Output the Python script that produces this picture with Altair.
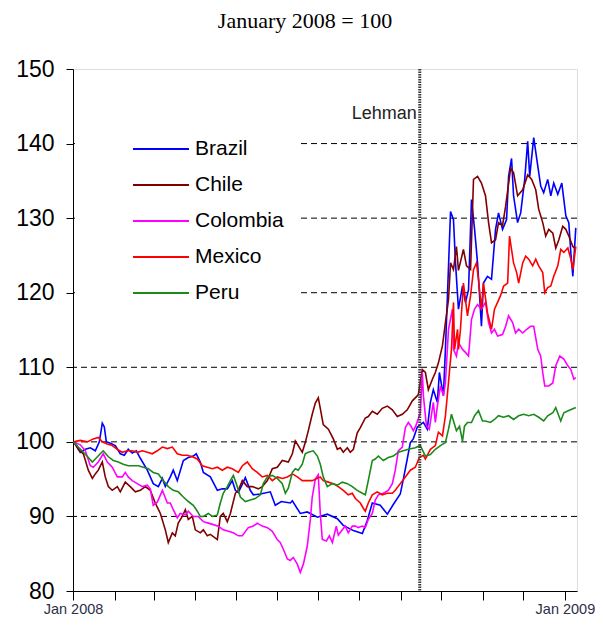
import altair as alt
import pandas as pd

START = "2008-01-01T00:00:00"
LEHMAN_DATE = "2008-09-15T00:00:00"
LEHMAN_LABEL = "Lehman"
TITLE = "January 2008 = 100"

SERIES = ["Brazil", "Chile", "Colombia", "Mexico", "Peru"]
COLORS = ["#0000FF", "#800000", "#FF00FF", "#FF0000", "#1B8A1B"]

Y_TICKS = [80, 90, 100, 110, 120, 130, 140, 150]
GRID_LEVELS = [90, 100, 110, 120, 130, 140]
X_TICK_MONTHS = [(2008, m) for m in range(1, 13)] + [(2009, 1)]

# (days since 1 Jan 2008, index value)
BRAZIL = [(0.5, 100), (2.5, 99.5), (5.4, 98.6), (9.2, 99.0), (12.9, 99.2), (16.6, 98.8), (19.6, 100),
          (21.8, 102.5), (23.3, 102.0), (24.8, 100), (27.8, 99.8), (31.5, 99.5), (35.2, 98.4), (38.2, 98.2),
          (41.1, 99.0), (44.1, 98.5), (47.1, 98.8), (50.1, 97.8), (55.3, 96.2), (59.7, 94.4), (63.5, 94.0),
          (66.5, 95.1), (68.7, 94.0), (72.4, 95.3), (74.6, 96.2), (77.6, 94.8), (82.1, 97.5), (85.8, 97.9),
          (89.5, 98.1), (91.7, 98.4), (94.7, 97.3), (97.0, 95.9), (102.2, 95.3), (107.4, 93.5), (111.1, 93.7),
          (114.8, 93.7), (118.5, 94.8), (120.8, 93.5), (123.0, 93.2), (126.5, 94.5), (128.2, 95.2), (131.9, 93.5),
          (134.2, 92.9), (139.4, 93.0), (146.8, 93.3), (150.5, 91.5), (155.0, 92.0), (161.7, 91.8), (163.2, 92.1),
          (169.1, 90.4), (174.3, 90.6), (181.8, 89.9), (189.2, 90.3), (196.7, 89.7), (201.1, 88.8), (208.6, 88.1),
          (215.3, 87.7), (219.0, 89.5), (222.7, 91.8), (228.6, 91.5), (233.9, 90.3), (238.3, 91.6), (243.5, 93.0),
          (245.8, 95.0), (248.7, 97.7), (251.0, 99.9), (253.2, 100.4), (256.2, 102.0), (260.7, 102.6),
          (263.6, 101.7), (265.9, 105.3), (268.1, 107.0), (271.1, 105.3), (272.6, 109.3), (275.6, 106.2),
          (277.1, 112.4), (278.6, 119.6), (280.9, 130.9), (283.1, 129.8), (284.6, 124.0), (286.8, 117.8),
          (289.8, 120.9), (292.0, 118.7), (294.3, 120.4), (296.5, 132.5), (298.8, 128.5), (301.0, 124.0),
          (303.9, 115.5), (305.4, 121.3), (308.4, 122.2), (311.4, 121.8), (314.4, 128.5), (316.6, 130.7),
          (319.6, 128.5), (322.6, 129.8), (324.1, 135.6), (326.3, 138.0), (327.8, 133.0), (330.8, 129.4),
          (333.1, 130.7), (336.1, 135.2), (338.3, 140.3), (339.8, 135.6), (342.8, 140.8), (345.8, 137.0),
          (348.0, 134.3), (350.2, 133.4), (353.2, 135.2), (355.5, 133.0), (357.7, 134.7), (360.7, 133.2),
          (363.7, 134.7), (366.7, 130.3), (368.9, 129.4), (370.4, 125.4), (371.9, 122.2), (374.1, 128.7)]

CHILE = [(0.5, 100), (3.9, 99.0), (7.7, 98.4), (11.4, 96.2), (14.4, 95.1), (16.6, 95.7), (18.8, 96.2),
         (21.8, 97.3), (24.0, 95.3), (26.3, 94.0), (29.2, 93.5), (33.0, 94.0), (35.2, 93.3), (38.9, 94.6),
         (42.6, 94.0), (46.4, 93.3), (50.1, 93.5), (53.8, 94.0), (57.5, 93.5), (61.2, 91.8), (65.0, 90.4),
         (68.7, 88.2), (70.9, 86.5), (73.9, 87.8), (76.1, 87.4), (78.3, 89.1), (81.3, 90.0), (83.6, 90.9),
         (85.8, 89.6), (88.8, 90.0), (91.0, 88.2), (94.7, 87.8), (97.0, 88.2), (99.9, 87.4), (102.2, 87.6),
         (107.4, 86.9), (109.6, 90.0), (111.8, 90.4), (114.8, 89.3), (117.1, 90.4), (120.8, 93.1), (123.0, 93.5),
         (126.0, 94.8), (129.7, 94.0), (133.4, 94.0), (137.9, 93.7), (140.8, 94.0), (144.6, 94.8), (148.3, 96.4),
         (152.0, 96.6), (155.7, 97.5), (160.2, 97.3), (163.2, 98.4), (165.4, 100.1), (167.6, 99.5), (170.6, 98.6),
         (172.8, 99.9), (175.1, 101.5), (178.0, 103.7), (180.3, 105.2), (182.5, 105.9), (184.0, 104.5),
         (186.2, 102.3), (190.0, 101.7), (193.7, 100.4), (196.7, 99.0), (198.9, 99.2), (201.1, 98.6),
         (204.1, 99.2), (206.3, 98.6), (208.6, 99.0), (211.5, 101.2), (213.8, 101.9), (217.5, 103.2),
         (219.7, 103.4), (222.7, 104.1), (226.4, 103.7), (230.1, 104.5), (233.9, 104.8), (237.6, 104.3),
         (241.3, 103.4), (245.0, 103.7), (248.7, 104.3), (252.5, 105.5), (256.9, 106.3), (259.9, 109.7),
         (262.2, 109.3), (264.4, 107.0), (267.4, 108.4), (269.6, 109.3), (271.9, 110.6), (274.9, 112.9),
         (277.1, 116.0), (279.4, 119.1), (280.9, 124.0), (283.1, 123.1), (285.3, 126.2), (286.8, 123.0),
         (290.5, 125.8), (292.8, 123.6), (295.8, 123.1), (298.0, 135.2), (301.0, 135.6), (303.9, 134.7),
         (306.9, 133.0), (309.2, 129.4), (311.4, 126.7), (314.4, 127.1), (316.6, 129.4), (319.6, 129.0),
         (321.9, 131.6), (325.6, 136.7), (327.8, 136.1), (330.8, 133.0), (334.6, 133.8), (338.3, 135.8),
         (341.3, 135.2), (344.3, 133.8), (346.5, 131.2), (349.5, 129.4), (351.7, 127.6), (354.0, 128.5),
         (357.0, 128.0), (359.2, 126.0), (361.5, 127.1), (364.4, 128.9), (366.7, 128.5), (368.9, 127.6),
         (371.9, 126.2), (374.1, 125.8)]

COLOMBIA = [(0.5, 100), (5.4, 99.6), (9.2, 98.8), (12.9, 96.8), (15.1, 96.6), (18.8, 97.3), (22.5, 98.4),
            (25.5, 97.3), (29.2, 96.6), (33.0, 95.3), (36.7, 95.3), (38.9, 95.9), (41.1, 95.3), (44.1, 94.8),
            (47.8, 94.4), (51.6, 94.0), (55.3, 94.2), (57.5, 93.7), (59.7, 91.5), (62.7, 91.9), (66.5, 93.5),
            (70.2, 91.8), (72.4, 91.8), (74.6, 90.9), (77.6, 89.8), (79.8, 90.4), (83.6, 90.2), (85.8, 90.7),
            (89.5, 90.0), (93.2, 90.0), (97.0, 89.3), (100.7, 89.1), (104.5, 88.9), (108.1, 88.7), (111.8, 88.2),
            (115.6, 88.0), (119.3, 87.8), (123.0, 87.4), (126.0, 87.4), (130.4, 88.5), (134.2, 88.7),
            (137.1, 89.1), (140.8, 88.7), (144.6, 88.5), (148.3, 88.0), (152.0, 86.9), (154.2, 86.5),
            (156.5, 85.6), (159.5, 84.3), (161.7, 84.1), (163.9, 84.5), (166.9, 83.6), (169.1, 82.5),
            (171.4, 83.6), (174.3, 86.0), (176.6, 89.6), (178.0, 92.6), (180.3, 95.0), (182.5, 95.6),
            (184.0, 90.4), (185.5, 86.9), (188.5, 86.7), (190.7, 87.4), (193.0, 86.5), (195.9, 88.7),
            (197.4, 87.5), (200.4, 88.2), (202.6, 88.7), (204.8, 87.8), (207.8, 88.7), (210.1, 88.7),
            (212.3, 88.5), (215.3, 88.7), (217.5, 88.5), (219.7, 89.6), (222.7, 90.4), (224.9, 92.2),
            (227.2, 92.9), (230.9, 93.1), (234.6, 93.5), (237.6, 94.4), (239.8, 96.2), (242.0, 98.8),
            (245.0, 99.3), (247.3, 101.9), (249.5, 102.6), (251.5, 102.1), (253.2, 101.5), (255.0, 102.1),
            (258.4, 103.9), (259.9, 109.3), (260.7, 106.2), (263.0, 102.1), (265.1, 101.7), (268.1, 105.3),
            (269.6, 102.6), (271.1, 104.8), (273.4, 107.5), (275.6, 106.2), (277.1, 107.9), (279.4, 115.1),
            (282.3, 117.8), (283.1, 112.4), (285.3, 111.5), (286.8, 113.3), (289.8, 112.4), (292.0, 112.0),
            (294.3, 111.5), (296.5, 116.4), (298.8, 117.8), (301.0, 118.4), (303.9, 117.8), (306.9, 118.7),
            (309.2, 116.0), (311.4, 114.6), (313.6, 115.1), (315.9, 114.2), (319.6, 114.4), (321.9, 115.5),
            (324.1, 116.9), (327.1, 116.0), (329.3, 114.6), (331.6, 115.1), (334.6, 114.6), (337.6, 115.1),
            (340.5, 115.5), (342.8, 115.5), (345.8, 112.4), (348.0, 111.5), (349.5, 109.3), (351.0, 107.5),
            (354.0, 107.5), (357.0, 107.9), (359.2, 110.2), (362.2, 111.5), (365.2, 111.1), (368.2, 110.2),
            (370.4, 109.7), (372.7, 108.4), (374.1, 108.6)]

MEXICO = [(0.5, 100), (5.4, 100.2), (10.6, 100.0), (15.1, 100.4), (18.8, 100.6), (21.8, 100.0), (25.5, 99.7),
          (29.2, 99.5), (33.0, 99.0), (36.7, 98.6), (40.4, 98.8), (44.1, 98.8), (47.8, 98.6), (51.6, 98.8),
          (55.3, 98.6), (59.0, 98.4), (62.7, 98.8), (66.5, 99.3), (70.2, 99.1), (73.9, 99.3), (77.6, 98.4),
          (81.3, 98.2), (85.0, 98.2), (88.8, 98.0), (92.5, 97.7), (96.2, 96.8), (99.9, 96.6), (103.7, 96.4),
          (107.4, 96.6), (111.1, 96.2), (114.8, 96.6), (118.5, 96.4), (123.0, 95.9), (126.0, 96.8),
          (129.7, 97.3), (133.4, 96.4), (137.1, 95.9), (140.8, 95.3), (144.6, 95.5), (148.3, 94.8),
          (152.0, 95.3), (155.7, 95.1), (159.5, 95.3), (163.2, 95.7), (166.9, 95.3), (170.6, 94.8),
          (174.3, 94.8), (178.0, 94.8), (181.8, 95.1), (184.0, 95.3), (186.2, 94.8), (190.0, 94.6),
          (193.7, 94.4), (197.4, 94.0), (201.1, 93.5), (204.8, 92.9), (207.8, 93.1), (210.1, 92.4),
          (213.8, 91.8), (216.0, 91.1), (217.5, 90.7), (219.7, 91.8), (222.7, 92.9), (226.4, 93.3),
          (230.1, 92.9), (233.9, 93.1), (237.6, 93.1), (239.8, 93.5), (243.5, 94.4), (247.3, 95.3),
          (251.0, 96.2), (254.7, 96.6), (257.7, 97.9), (260.7, 98.2), (262.2, 97.7), (265.9, 99.0),
          (269.6, 99.5), (271.9, 101.3), (274.9, 100.8), (277.1, 103.5), (279.4, 108.0), (281.6, 112.4),
          (283.1, 118.7), (283.9, 112.4), (286.1, 115.1), (286.8, 112.4), (288.3, 115.1), (290.5, 121.3),
          (292.0, 119.1), (293.5, 116.9), (295.8, 119.6), (298.0, 123.1), (300.2, 124.0), (301.7, 121.8),
          (303.9, 117.8), (305.4, 121.3), (308.4, 117.3), (311.4, 115.1), (313.6, 117.8), (315.9, 118.7),
          (318.1, 119.6), (320.4, 120.9), (323.4, 121.3), (324.8, 127.6), (327.8, 124.0), (330.1, 122.7),
          (331.6, 121.3), (334.6, 124.0), (336.8, 124.9), (339.1, 124.5), (342.0, 123.6), (344.3, 124.5),
          (346.5, 123.6), (349.5, 122.7), (351.0, 120.0), (353.2, 120.7), (355.5, 120.9), (357.7, 122.2),
          (360.7, 123.6), (362.9, 125.8), (365.2, 125.4), (368.2, 126.0), (370.4, 124.5), (371.9, 123.1),
          (374.1, 126.2)]

PERU = [(0.5, 100), (3.9, 99.3), (7.7, 98.6), (11.4, 97.9), (14.4, 97.3), (16.6, 97.7), (20.3, 98.4),
        (22.5, 98.8), (26.3, 98.0), (30.0, 97.5), (33.7, 97.3), (37.4, 97.0), (41.1, 96.8), (44.9, 96.8),
        (48.6, 96.8), (52.3, 96.6), (56.0, 96.4), (59.7, 95.9), (63.5, 95.7), (67.2, 94.8), (70.9, 94.0),
        (74.6, 93.5), (78.3, 93.3), (82.1, 92.6), (85.8, 92.0), (89.5, 91.5), (92.5, 90.7), (94.7, 90.0),
        (97.0, 90.0), (100.7, 90.4), (103.7, 90.0), (107.4, 90.2), (109.6, 91.8), (111.8, 93.1), (114.8, 94.0),
        (117.1, 94.8), (119.3, 95.5), (121.5, 94.4), (124.5, 92.6), (128.2, 92.0), (131.9, 92.2), (135.6, 92.4),
        (139.4, 92.9), (141.6, 94.4), (144.6, 95.3), (148.3, 95.5), (152.0, 95.1), (155.7, 94.4), (158.0, 93.1),
        (160.2, 93.8), (163.2, 95.9), (165.4, 96.4), (167.6, 96.2), (170.6, 97.0), (172.8, 98.4), (175.1, 98.6),
        (178.8, 98.8), (181.8, 98.1), (184.0, 97.0), (186.2, 95.3), (189.2, 94.0), (193.0, 94.4), (196.7, 94.2),
        (200.4, 94.6), (204.1, 94.4), (207.8, 94.0), (211.5, 93.5), (215.3, 93.1), (217.5, 92.9), (219.7, 94.8),
        (222.7, 97.5), (224.9, 97.7), (227.2, 98.1), (230.9, 97.5), (234.6, 97.9), (238.3, 98.1), (242.0, 98.6),
        (245.8, 98.8), (249.5, 99.0), (254.7, 99.2), (258.4, 99.5), (262.2, 98.1), (265.9, 98.3), (269.6, 99.0),
        (273.4, 99.5), (277.1, 99.9), (279.4, 101.7), (281.6, 103.7), (283.1, 102.8), (285.3, 101.5),
        (287.6, 102.1), (289.8, 100.1), (291.3, 102.1), (293.5, 102.6), (296.5, 102.6), (298.8, 103.5),
        (301.7, 104.2), (304.7, 102.8), (306.9, 102.8), (310.6, 102.6), (313.6, 103.0), (316.6, 103.5),
        (320.4, 103.3), (324.1, 103.5), (327.8, 103.0), (331.6, 103.5), (335.3, 103.7), (339.1, 103.5),
        (342.8, 103.7), (346.5, 103.3), (350.2, 102.8), (353.2, 103.5), (357.0, 103.9), (359.2, 104.6),
        (362.9, 102.8), (365.2, 103.9), (368.9, 104.2), (374.1, 104.6)]

DATA = {"Brazil": BRAZIL, "Chile": CHILE, "Colombia": COLOMBIA, "Mexico": MEXICO, "Peru": PERU}

origin = pd.Timestamp(START)
rows = []
for name in SERIES:
    for i, (d, v) in enumerate(DATA[name]):
        t = origin + pd.Timedelta(days=d)
        rows.append({"country": name, "date": t.strftime("%Y-%m-%dT%H:%M:%S"), "value": v, "idx": i})
df = pd.DataFrame(rows)

x_scale = alt.Scale(domain=[alt.DateTime(year=2008, month=1, date=1),
                            alt.DateTime(year=2009, month=1, date=10)])
y_scale = alt.Scale(domain=[Y_TICKS[0], Y_TICKS[-1]], nice=False, zero=False)

x_axis = alt.Axis(
    values=[alt.DateTime(year=y, month=m, date=1) for (y, m) in X_TICK_MONTHS],
    labelExpr="month(datum.value) == 0 ? timeFormat(datum.value, '%b %Y') : ''",
    title=None, grid=False, tickSize=9, tickColor="black", domainColor="black",
    labelFont="Liberation Sans", labelFontSize=14.5, labelColor="#2E2E48",
    labelPadding=2, labelFlush=False, labelOverlap=False, labelBound=False,
)
y_axis = alt.Axis(
    values=Y_TICKS, title=None, grid=False, tickSize=7, tickColor="black", domainColor="black",
    labelFont="Liberation Sans", labelFontSize=23, labelColor="black", labelPadding=12,
    labelFlush=False, labelOverlap=False,
)

grid_df = pd.DataFrame({"level": GRID_LEVELS})
grid = alt.Chart(grid_df).mark_rule(color="black", strokeDash=[6, 4], strokeWidth=1).encode(
    y=alt.Y("level:Q", scale=y_scale, axis=y_axis)
)

lines = alt.Chart(df).mark_line(strokeWidth=1.6).encode(
    x=alt.X("date:T", scale=x_scale, axis=x_axis),
    y=alt.Y("value:Q", scale=y_scale, axis=y_axis),
    color=alt.Color(
        "country:N",
        scale=alt.Scale(domain=SERIES, range=COLORS),
        legend=alt.Legend(
            orient="none", legendX=2, legendY=55, title=None,
            symbolType="stroke", symbolSize=3136, symbolStrokeWidth=2,
            symbolOffset=42, labelOffset=5, clipHeight=20, rowPadding=15,
            labelFont="Liberation Sans", labelFontSize=21, labelColor="black",
            fillColor="white", padding=15, labelLimit=0,
        ),
    ),
    order="idx:Q",
)

lehman_df = pd.DataFrame({"date": [LEHMAN_DATE], "label": [LEHMAN_LABEL], "level": [144]})
lehman_rule = alt.Chart(lehman_df).mark_rule(color="#3a3a3a", strokeWidth=3, strokeDash=[1.5, 1]).encode(
    x=alt.X("date:T", scale=x_scale, axis=x_axis)
)
lehman_text = alt.Chart(lehman_df).mark_text(
    align="right", baseline="middle", dx=-3, font="Liberation Sans", fontSize=18, color="#222222"
).encode(
    x=alt.X("date:T", scale=x_scale, axis=x_axis),
    y=alt.Y("level:Q", scale=y_scale, axis=y_axis),
    text="label:N",
)

chart = alt.layer(grid, lines, lehman_rule, lehman_text).properties(
    width=504, height=522,
    padding={"left": 65, "top": 61, "right": 18, "bottom": 26},
    autosize=alt.AutoSizeParams(type="none"),
    title=alt.TitleParams(TITLE, font="Liberation Serif", fontSize=22, fontWeight="normal",
                          color="black", offset=25, dx=-20, anchor="middle"),
).configure_view(stroke="black", strokeWidth=1).configure(background="white")

chart.save("out.html", embed_options={"renderer": "svg", "actions": False})
